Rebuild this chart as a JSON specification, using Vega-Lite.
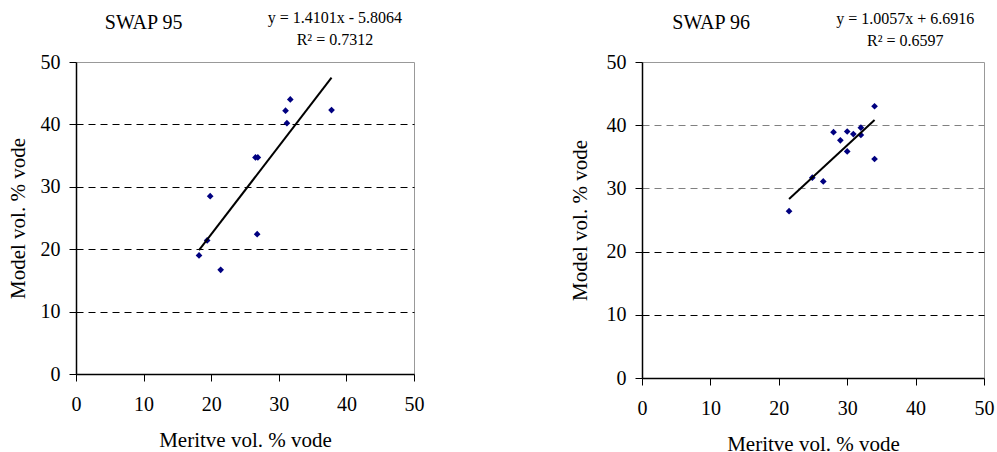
{
  "$schema": "https://vega.github.io/schema/vega-lite/v6.json",
  "background": "white",
  "padding": {"left": 6, "top": 9, "right": 5, "bottom": 0},
  "spacing": 143,
  "config": {
    "font": "Liberation Serif",
    "view": {"stroke": "#999999", "strokeWidth": 1},
    "axis": {
      "labelFont": "Liberation Serif",
      "titleFont": "Liberation Serif",
      "labelFontSize": 20,
      "titleFontSize": 21,
      "titleFontWeight": "normal",
      "labelColor": "black",
      "titleColor": "black",
      "domainColor": "black",
      "domainWidth": 1.5,
      "tickColor": "black",
      "tickWidth": 1,
      "tickSize": 7,
      "labelFlush": false,
      "labelOverlap": false,
      "labelBound": false
    },
    "text": {"font": "Liberation Serif", "fontWeight": "normal"}
  },
  "datasets": {
    "swap95": [
      {"meritve": 18.2, "model": 19.0},
      {"meritve": 19.4, "model": 21.4},
      {"meritve": 19.85, "model": 28.5},
      {"meritve": 21.4, "model": 16.7},
      {"meritve": 26.55, "model": 34.7},
      {"meritve": 26.9, "model": 34.7},
      {"meritve": 26.8, "model": 22.4},
      {"meritve": 31.0, "model": 42.2},
      {"meritve": 31.7, "model": 44.0},
      {"meritve": 31.2, "model": 40.2},
      {"meritve": 37.8, "model": 42.3}
    ],
    "swap96": [
      {"meritve": 21.5, "model": 26.4},
      {"meritve": 24.9, "model": 31.7},
      {"meritve": 26.5, "model": 31.1},
      {"meritve": 28.0, "model": 38.9},
      {"meritve": 29.0, "model": 37.6},
      {"meritve": 30.0, "model": 39.0},
      {"meritve": 30.0, "model": 35.85},
      {"meritve": 30.9, "model": 38.6},
      {"meritve": 32.0, "model": 39.6},
      {"meritve": 32.0, "model": 38.45},
      {"meritve": 34.0, "model": 43.0},
      {"meritve": 34.0, "model": 34.65}
    ],
    "one": [{}]
  },
  "hconcat": [
    {
      "width": 338,
      "height": 312,
      "layer": [
        {
          "data": {"name": "swap95"},
          "mark": {"type": "point", "shape": "diamond", "filled": true, "size": 45, "color": "#000080", "opacity": 1},
          "encoding": {
            "x": {"field": "meritve", "type": "quantitative", "scale": {"domain": [0, 50], "nice": false, "zero": false},
              "axis": {"title": "Meritve vol. % vode", "values": [0, 10, 20, 30, 40, 50], "grid": false, "labelPadding": 13, "titlePadding": 15}},
            "y": {"field": "model", "type": "quantitative", "scale": {"domain": [0, 50], "nice": false, "zero": false},
              "axis": {"title": "Model vol. % vode", "values": [0, 10, 20, 30, 40, 50], "grid": true, "gridColor": "black", "gridDash": [7, 5], "gridWidth": 1,
                "gridOpacity": {"condition": {"test": "datum.value === 0 || datum.value === 50", "value": 0}, "value": 1},
                "labelPadding": 9, "titlePadding": 12}}
          }
        },
        {
          "data": {"name": "swap95"},
          "transform": [{"regression": "model", "on": "meritve"}],
          "mark": {"type": "line", "color": "black", "strokeWidth": 2},
          "encoding": {
            "x": {"field": "meritve", "type": "quantitative"},
            "y": {"field": "model", "type": "quantitative"}
          }
        },
        {
          "data": {"name": "one"},
          "mark": {"type": "text", "text": "SWAP 95", "fontSize": 20, "align": "center", "baseline": "middle", "clip": false, "fill": "black"},
          "encoding": {
            "x": {"datum": 10.0, "type": "quantitative"},
            "y": {"datum": 56.2, "type": "quantitative"}
          }
        },
        {
          "data": {"name": "one"},
          "mark": {"type": "text", "text": ["y = 1.4101x - 5.8064", "R² = 0.7312"], "fontSize": 16, "align": "center", "baseline": "top", "lineHeight": 22, "clip": false, "fill": "black"},
          "encoding": {
            "x": {"datum": 38.3, "type": "quantitative"},
            "y": {"datum": 58.3, "type": "quantitative"}
          }
        }
      ]
    },
    {
      "width": 342,
      "height": 316,
      "layer": [
        {
          "data": {"name": "swap96"},
          "mark": {"type": "point", "shape": "diamond", "filled": true, "size": 45, "color": "#000080", "opacity": 1},
          "encoding": {
            "x": {"field": "meritve", "type": "quantitative", "scale": {"domain": [0, 50], "nice": false, "zero": false},
              "axis": {"title": "Meritve vol. % vode", "values": [0, 10, 20, 30, 40, 50], "grid": false, "labelPadding": 13, "titlePadding": 15}},
            "y": {"field": "model", "type": "quantitative", "scale": {"domain": [0, 50], "nice": false, "zero": false},
              "axis": {"title": "Model vol. % vode", "values": [0, 10, 20, 30, 40, 50], "grid": true,
                "gridColor": {"condition": {"test": "datum.value >= 30", "value": "#808080"}, "value": "black"},
                "gridDash": [7, 5], "gridWidth": 1,
                "gridOpacity": {"condition": {"test": "datum.value === 0 || datum.value === 50", "value": 0}, "value": 1},
                "labelPadding": 9, "titlePadding": 16}}
          }
        },
        {
          "data": {"name": "swap96"},
          "transform": [{"regression": "model", "on": "meritve"}],
          "mark": {"type": "line", "color": "black", "strokeWidth": 2},
          "encoding": {
            "x": {"field": "meritve", "type": "quantitative"},
            "y": {"field": "model", "type": "quantitative"}
          }
        },
        {
          "data": {"name": "one"},
          "mark": {"type": "text", "text": "SWAP 96", "fontSize": 20, "align": "center", "baseline": "middle", "clip": false, "fill": "black"},
          "encoding": {
            "x": {"datum": 10.1, "type": "quantitative"},
            "y": {"datum": 56.2, "type": "quantitative"}
          }
        },
        {
          "data": {"name": "one"},
          "mark": {"type": "text", "text": ["y = 1.0057x + 6.6916", "R² = 0.6597"], "fontSize": 16, "align": "center", "baseline": "top", "lineHeight": 22, "clip": false, "fill": "black"},
          "encoding": {
            "x": {"datum": 38.5, "type": "quantitative"},
            "y": {"datum": 58.1, "type": "quantitative"}
          }
        }
      ]
    }
  ]
}
